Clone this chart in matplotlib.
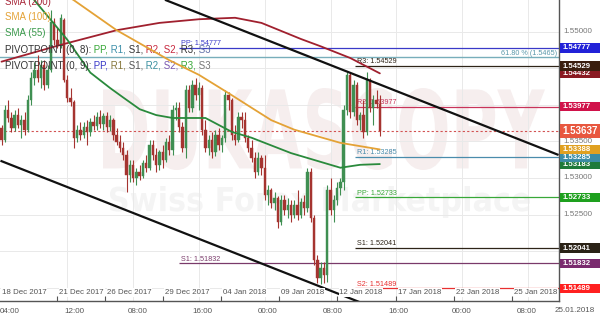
import matplotlib
matplotlib.use("Agg")
import matplotlib.pyplot as plt
from matplotlib.patches import Rectangle, PathPatch
from matplotlib.textpath import TextPath
from matplotlib.font_manager import FontProperties
from matplotlib.transforms import Affine2D
import numpy as np

plt.rcParams['font.family'] = ['Liberation Sans', 'DejaVu Sans']

# ---------------- data (4H candles) ----------------
opens = [1.5368, 1.5352, 1.5393, 1.5382, 1.5368, 1.5386, 1.5372, 1.5379, 1.5366, 1.5407,
         1.5437, 1.5448, 1.5437, 1.5454, 1.5427, 1.5448, 1.5513, 1.5489, 1.5482, 1.5516,
         1.5434, 1.5409, 1.5404, 1.5355, 1.5366, 1.5359, 1.5370, 1.5363, 1.5376, 1.5371,
         1.5383, 1.5374, 1.5385, 1.5370, 1.5379, 1.5359, 1.5349, 1.5341, 1.5331, 1.5304,
         1.5318, 1.5300, 1.5308, 1.5303, 1.5320, 1.5314, 1.5345, 1.5331, 1.5318, 1.5336,
         1.5325, 1.5349, 1.5338, 1.5393, 1.5396, 1.5370, 1.5341, 1.5420, 1.5396, 1.5427,
         1.5413, 1.5423, 1.5366, 1.5341, 1.5352, 1.5336, 1.5359, 1.5345, 1.5355, 1.5413,
         1.5407, 1.5359, 1.5352, 1.5383, 1.5379, 1.5355, 1.5341, 1.5327, 1.5308, 1.5327,
         1.5314, 1.5277, 1.5284, 1.5266, 1.5273, 1.5240, 1.5270, 1.5256, 1.5263, 1.5249,
         1.5263, 1.5249, 1.5267, 1.5259, 1.5308, 1.5245, 1.5188, 1.5163, 1.5177, 1.5167,
         1.5284, 1.5256, 1.5270, 1.5286, 1.5294, 1.5393, 1.5441, 1.5390, 1.5427, 1.5379,
         1.5386, 1.5363, 1.5434, 1.5396, 1.5407, 1.5401]
highs = [1.5372, 1.5400, 1.5407, 1.5390, 1.5393, 1.5396, 1.5386, 1.5390, 1.5413, 1.5445,
         1.5459, 1.5468, 1.5461, 1.5461, 1.5454, 1.5530, 1.5519, 1.5505, 1.5524, 1.5519,
         1.5441, 1.5423, 1.5407, 1.5372, 1.5376, 1.5376, 1.5379, 1.5382, 1.5386, 1.5390,
         1.5393, 1.5389, 1.5390, 1.5386, 1.5382, 1.5368, 1.5359, 1.5349, 1.5338, 1.5325,
         1.5325, 1.5314, 1.5318, 1.5325, 1.5331, 1.5352, 1.5352, 1.5341, 1.5338, 1.5345,
         1.5355, 1.5359, 1.5400, 1.5404, 1.5404, 1.5376, 1.5427, 1.5427, 1.5434, 1.5437,
         1.5431, 1.5427, 1.5379, 1.5359, 1.5363, 1.5366, 1.5368, 1.5359, 1.5420, 1.5418,
         1.5409, 1.5372, 1.5390, 1.5390, 1.5390, 1.5359, 1.5352, 1.5336, 1.5336, 1.5331,
         1.5331, 1.5290, 1.5286, 1.5281, 1.5276, 1.5277, 1.5277, 1.5273, 1.5270, 1.5270,
         1.5284, 1.5273, 1.5277, 1.5314, 1.5314, 1.5249, 1.5195, 1.5185, 1.5185, 1.5290,
         1.5300, 1.5277, 1.5294, 1.5300, 1.5400, 1.5445, 1.5445, 1.5434, 1.5431, 1.5390,
         1.5407, 1.5445, 1.5437, 1.5413, 1.5420, 1.5413]
lows = [1.5345, 1.5349, 1.5376, 1.5363, 1.5364, 1.5368, 1.5355, 1.5359, 1.5363, 1.5400,
        1.5427, 1.5431, 1.5423, 1.5420, 1.5423, 1.5445, 1.5482, 1.5478, 1.5478, 1.5431,
        1.5404, 1.5398, 1.5341, 1.5349, 1.5352, 1.5355, 1.5345, 1.5357, 1.5366, 1.5366,
        1.5368, 1.5366, 1.5363, 1.5364, 1.5352, 1.5345, 1.5336, 1.5325, 1.5281, 1.5294,
        1.5294, 1.5290, 1.5297, 1.5300, 1.5308, 1.5311, 1.5325, 1.5308, 1.5311, 1.5314,
        1.5322, 1.5331, 1.5331, 1.5379, 1.5363, 1.5336, 1.5327, 1.5390, 1.5390, 1.5407,
        1.5393, 1.5359, 1.5336, 1.5331, 1.5327, 1.5330, 1.5338, 1.5336, 1.5349, 1.5393,
        1.5352, 1.5345, 1.5349, 1.5368, 1.5349, 1.5336, 1.5322, 1.5300, 1.5304, 1.5304,
        1.5270, 1.5263, 1.5259, 1.5256, 1.5232, 1.5236, 1.5249, 1.5245, 1.5240, 1.5245,
        1.5243, 1.5245, 1.5249, 1.5254, 1.5240, 1.5181, 1.5156, 1.5155, 1.5156, 1.5158,
        1.5249, 1.5240, 1.5263, 1.5277, 1.5284, 1.5386, 1.5382, 1.5385, 1.5372, 1.5366,
        1.5355, 1.5359, 1.5390, 1.5372, 1.5396, 1.5357]
closes = [1.5352, 1.5393, 1.5382, 1.5368, 1.5386, 1.5372, 1.5379, 1.5366, 1.5407, 1.5437,
          1.5448, 1.5437, 1.5454, 1.5427, 1.5448, 1.5513, 1.5489, 1.5482, 1.5519, 1.5434,
          1.5409, 1.5404, 1.5355, 1.5366, 1.5359, 1.5370, 1.5363, 1.5376, 1.5371, 1.5383,
          1.5374, 1.5385, 1.5370, 1.5379, 1.5359, 1.5349, 1.5341, 1.5331, 1.5304, 1.5318,
          1.5300, 1.5308, 1.5303, 1.5320, 1.5314, 1.5345, 1.5331, 1.5318, 1.5336, 1.5325,
          1.5349, 1.5338, 1.5393, 1.5396, 1.5370, 1.5341, 1.5420, 1.5396, 1.5427, 1.5413,
          1.5423, 1.5366, 1.5341, 1.5352, 1.5336, 1.5359, 1.5345, 1.5355, 1.5413, 1.5407,
          1.5359, 1.5352, 1.5383, 1.5379, 1.5355, 1.5341, 1.5327, 1.5308, 1.5327, 1.5314,
          1.5277, 1.5284, 1.5266, 1.5273, 1.5240, 1.5270, 1.5256, 1.5263, 1.5249, 1.5263,
          1.5249, 1.5267, 1.5259, 1.5308, 1.5245, 1.5188, 1.5163, 1.5177, 1.5167, 1.5284,
          1.5256, 1.5270, 1.5286, 1.5294, 1.5393, 1.5441, 1.5390, 1.5427, 1.5379, 1.5386,
          1.5363, 1.5434, 1.5396, 1.5407, 1.5401, 1.5364]

# moving averages (candle index, price)
sma200_x = [0, 18, 35, 48, 60, 71, 79, 85, 91, 97, 106, 115]
sma200_y = [1.5459, 1.5482, 1.5502, 1.5512, 1.5517, 1.5519, 1.5512, 1.5501, 1.5490, 1.5480, 1.5464, 1.5443]
sma100_x = [14, 22, 35, 51, 60, 69, 76, 82, 89, 103, 115]
sma100_y = [1.5565, 1.5543, 1.5502, 1.5461, 1.5441, 1.5416, 1.5396, 1.5379, 1.5366, 1.5348, 1.5339]
sma55_x = [5, 10, 20, 27, 33, 37, 42, 47, 52, 62, 70, 76, 88, 103, 109, 115]
sma55_y = [1.5577, 1.5543, 1.5489, 1.5444, 1.5423, 1.5410, 1.5394, 1.5386, 1.5382, 1.5382,
           1.5363, 1.5355, 1.5334, 1.5314, 1.5318, 1.5319]

# channel trend lines (anchor index, anchor price)
upper_x = [50, 169]
upper_y = [1.5543, 1.5332]
lower_x = [0, 109]
lower_y = [1.5323, 1.5130]

fib_level = 1.5465
last_price = 1.53637

# pivot point sets
piv_a_start = 54
piv_a_names = ['PP', 'S1']
piv_a_vals = [1.54777, 1.51832]
piv_a_cols = ['#3a3ac8', '#7a3a6a']
piv_b_start = 107.5
piv_b_names = ['R3', 'R2', 'R1', 'PP', 'S1', 'S2']
piv_b_vals = [1.54529, 1.53977, 1.53285, 1.52733, 1.52041, 1.51489]
piv_b_cols = ['#2e2418', '#c8345a', '#4a8cac', '#38a838', '#2e2418', '#e83030']

# right-axis value boxes (drawn in order, later on top)
box_vals = [1.54777, 1.5443, 1.54529, 1.53977, 1.53183, 1.53285, 1.53388, 1.52733, 1.52041, 1.51832, 1.51489]
box_text = ['1.54777', '1.54432', '1.54529', '1.53977', '1.53183', '1.53285', '1.53388', '1.52733', '1.52041', '1.51832', '1.51489']
box_cols = ['#2222d8', '#8a1a22', '#3a1e0e', '#d0124a', '#1e7a3a', '#3a8ca4', '#e0a020', '#1ea01e', '#2a2216', '#7a2a6e', '#ff2020']
axis_ticks = [1.515, 1.520, 1.525, 1.530, 1.535, 1.540, 1.545, 1.550]
axis_labels_shown = [1.55000, 1.53500, 1.53000, 1.52500]

# x axis
date_pos = [-0.45, 17, 31.5, 49, 66.7, 84.3, 102, 120, 137.5, 155.2]
date_labels = ['18 Dec 2017', '21 Dec 2017', '26 Dec 2017', '29 Dec 2017', '04 Jan 2018',
               '09 Jan 2018', '12 Jan 2018', '17 Jan 2018', '22 Jan 2018', '25 Jan 2018']
time_pos = [2.6, 22.3, 41.5, 61.2, 81, 100.8, 120.5, 140, 159.7]
time_labels = ['04:00', '12:00', '08:00', '16:00', '00:00', '08:00', '16:00', '00:00', '08:00']
vgrid_pos = [20, 40, 60, 80, 100, 120, 140, 160]

# ---------------- figure ----------------
W, H = 600, 321
fig = plt.figure(figsize=(W / 100, H / 100), dpi=100)
fig.patch.set_facecolor('white')
ax = fig.add_axes([0, 20 / H, 559 / W, 301 / H])
XMIN, XMAX = -0.456, 169.45
YMIN, YMAX = 1.51318, 1.55433
ax.set_xlim(XMIN, XMAX)
ax.set_ylim(YMIN, YMAX)
ax.set_facecolor('white')
px = (YMAX - YMIN) / 301.0


# faint watermark, fitted into a pixel box (top-left origin)
def watermark(text, x0, y0, x1, y1, color):
    tp = TextPath((0, 0), text, size=100, prop=FontProperties(family='DejaVu Sans', weight='bold'))
    bb = tp.get_extents()
    tr = (Affine2D().translate(-bb.x0, -bb.y0)
          .scale((x1 - x0) / bb.width, (y1 - y0) / bb.height)
          .translate(x0, H - y1))
    ax.add_artist(PathPatch(tp, transform=tr, facecolor=color, edgecolor='none', zorder=0.5))


watermark('DUKASCOPY', 103, 88, 545, 170, '#f6eeee')
watermark('Swiss Forex Marketplace', 110, 186, 530, 218, '#f4f4f4')

# grid
for v in axis_ticks:
    ax.axhline(v, color='#e9e9e9', lw=0.7, zorder=1)
for g in vgrid_pos:
    ax.axvline(g, color='#e9e9e9', lw=0.7, zorder=1)

# fib line
ax.axhline(fib_level, color='#78aebb', lw=1.0, zorder=2)
ax.text(168.9, fib_level + 0.6 * px, '61.80 % (1.5465)', color='#5a98aa', fontsize=5.2,
        ha='right', va='bottom', zorder=2)

# pivots
for n, v, c in zip(piv_a_names, piv_a_vals, piv_a_cols):
    ax.hlines(v, piv_a_start, XMAX, color=c, lw=0.9, zorder=2)
    ax.text(piv_a_start + 0.6, v + 0.8 * px, f'{n}: {v:.5f}', color=c, fontsize=5.2,
            ha='left', va='bottom', zorder=2)
for n, v, c in zip(piv_b_names, piv_b_vals, piv_b_cols):
    ax.hlines(v, piv_b_start, XMAX, color=c, lw=0.9, zorder=2)
    ax.text(piv_b_start + 0.6, v + 0.8 * px, f'{n}: {v:.5f}', color=c, fontsize=5.2,
            ha='left', va='bottom', zorder=2)

# current price dashed line
ax.axhline(last_price, color='#d25252', lw=0.8, ls=(0, (2, 2)), zorder=2)

# moving averages
ax.plot(sma200_x, sma200_y, color='#a0202e', lw=1.3, zorder=5, solid_capstyle='round')
ax.plot(sma100_x, sma100_y, color='#e4a236', lw=1.3, zorder=5, solid_capstyle='round')
ax.plot(sma55_x, sma55_y, color='#2a8a3c', lw=1.3, zorder=5, solid_capstyle='round')

# trend channel
ax.plot(upper_x, upper_y, color='#111111', lw=1.6, zorder=6)
ax.plot(lower_x, lower_y, color='#111111', lw=1.6, zorder=6)

# candles
o = np.array(opens); c = np.array(closes); hh = np.array(highs); ll = np.array(lows)
xi = np.arange(len(o))
up = c >= o
cols = np.where(up, '#3f8f52', '#a53430')
ax.vlines(xi, ll, hh, colors=cols, lw=0.8, zorder=4)
ax.bar(xi, np.maximum(np.abs(c - o), 0.00006), bottom=np.minimum(o, c), width=0.72,
       color=cols, edgecolor=cols, linewidth=0.3, zorder=4)

# spines / ticks
for s in ['top', 'left']:
    ax.spines[s].set_visible(False)
for s in ['bottom', 'right']:
    ax.spines[s].set_color('#555555')
    ax.spines[s].set_linewidth(1.0)
ax.set_yticks([])
ax.set_xticks(date_pos[1:])
ax.tick_params(axis='x', direction='in', length=3.5, width=0.8, color='#555555',
               labelbottom=False)

# date labels (inside) and time labels (below)
xt = ax.get_xaxis_transform()
for p, lab in zip(date_pos, date_labels):
    ax.text(p + 0.6, 8.5 / 301, lab, transform=xt, fontsize=5.7, color='#555555',
            ha='left', va='center', zorder=7,
            bbox=dict(facecolor='white', edgecolor='none', pad=0.4))
for p, lab in zip(time_pos, time_labels):
    ax.text(p, -10.5 / 301, lab, transform=xt, fontsize=5.8, color='#555555',
            ha='center', va='center', clip_on=False)
fig.text(575 / W, 1 - 311 / H, '25.01.2018', fontsize=5.8, color='#555555',
         ha='center', va='center')

# right axis labels
yt = ax.get_yaxis_transform()
for v in axis_labels_shown:
    ax.text(1.008, v, f'{v:.5f}', transform=yt, fontsize=5.8, color='#777777',
            ha='left', va='center', clip_on=False, zorder=8)

z = 9
for v, t, fc in zip(box_vals, box_text, box_cols):
    hb = 9.5 * px
    ax.add_patch(Rectangle((1.0018, v - hb / 2), 0.0716, hb, transform=yt, facecolor=fc,
                           edgecolor='none', clip_on=False, zorder=z))
    ax.text(1.0055, v, t, transform=yt, fontsize=5.6, fontweight='bold', color='white',
            ha='left', va='center', clip_on=False, zorder=z + 0.5)
    z += 1
hb = 14 * px
ax.add_patch(Rectangle((1.0018, last_price - hb / 2), 0.0716, hb, transform=yt,
                       facecolor='#e8573f', edgecolor='none', clip_on=False, zorder=z))
ax.text(1.0055, last_price, f'{last_price:.5f}', transform=yt, fontsize=7, fontweight='bold',
        color='white', ha='left', va='center', clip_on=False, zorder=z + 0.5)


# legend (top-left), multi-coloured lines
def rich(y_px, parts, fs=7):
    t = fig.text(5 / W, 1 - y_px / H, parts[0][0], color=parts[0][1], fontsize=fs,
                 ha='left', va='center')
    for s, colr in parts[1:]:
        t = ax.annotate(s, xy=(1, 0.5), xycoords=t, va='center', ha='left', color=colr,
                        fontsize=fs, annotation_clip=False)
    return t


rich(2, [('SMA (200)', '#a8283a')])
rich(17, [('SMA (100)', '#e4a236')])
rich(33, [('SMA (55)', '#3a9a4c')])
dk = '#333333'
rich(50, [('PIVOTPOINT (0, 8):', dk), (' PP,', '#38a838'), (' R1,', '#3e90aa'),
          (' S1,', dk), (' R2,', '#c82a40'), (' S2,', '#c82a40'), (' R3,', dk),
          (' S3', '#6070a8')])
rich(66, [('PIVOTPOINT (0, 9):', dk), (' PP,', '#3a3ac8'), (' R1,', '#86763a'),
          (' S1,', '#555555'), (' R2,', '#3a90a0'), (' S2,', '#7a58b0'), (' R3,', '#38a838'),
          (' S3', '#777777')])

fig.savefig('out.png', dpi=100, facecolor='white')
